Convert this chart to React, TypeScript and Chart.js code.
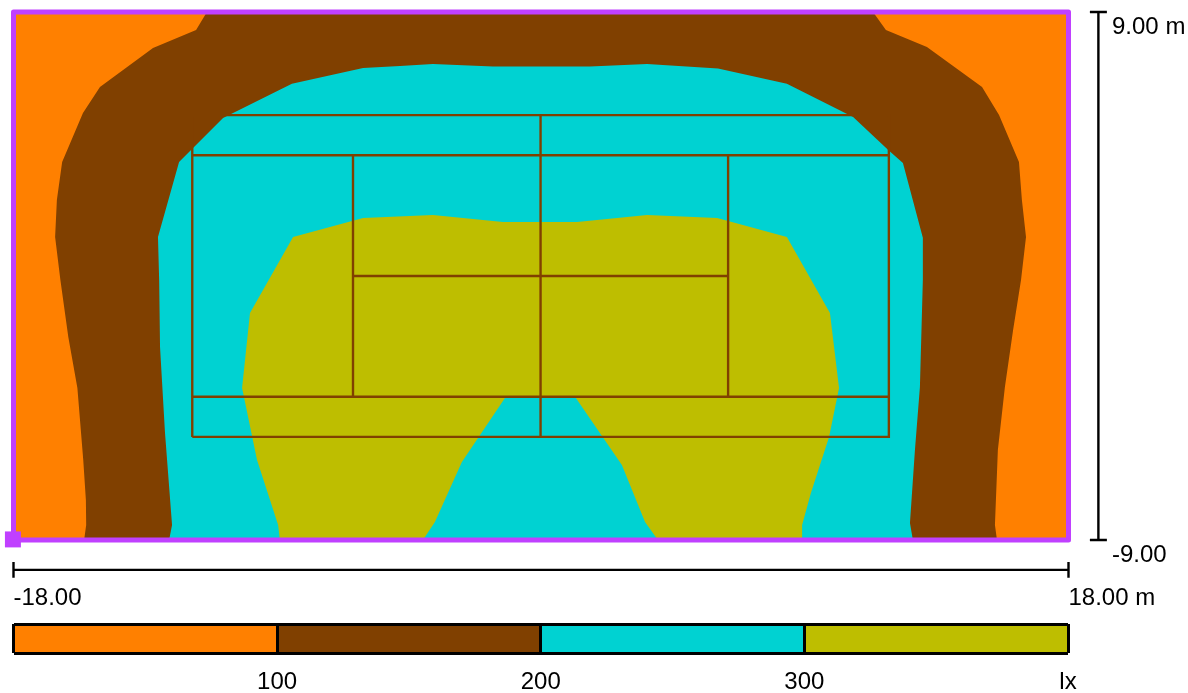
import React, { useEffect, useRef } from "react";
import { Chart, registerables } from "chart.js";

Chart.register(...registerables);

type P = [number, number];

const xRange: P = [-18, 18];
const yRange: P = [-9, 9];
const xTicks = [-18, 18];
const xTickLabels = ["-18.00", "18.00 m"];
const yTicks = [-9, 9];
const yTickLabels = ["-9.00", "9.00 m"];

const band100: P[] = [[-18, -9], [-18, 9], [18, 9], [18, -9], [-18, -9]];

const band200: P[] = [
  [-15.59, -9], [-15.52, -8.49], [-15.53, -7.64], [-15.62, -6.27], [-15.82, -3.82], [-16.13, -2.08],
  [-16.4, -0.14], [-16.58, 1.33], [-16.52, 2.59], [-16.34, 3.89], [-15.63, 5.56], [-15.05, 6.44],
  [-13.24, 7.77], [-11.77, 8.39], [-11.4, 9], [11.33, 9], [11.77, 8.39], [13.17, 7.81], [15.05, 6.44],
  [15.63, 5.49], [16.31, 3.89], [16.41, 2.59], [16.55, 1.33], [16.38, -0.14], [16.11, -1.84],
  [15.83, -3.78], [15.59, -5.93], [15.49, -8.49], [15.56, -9], [-15.59, -9],
];

const band300: P[] = [
  [-12.69, -9], [-12.59, -8.49], [-12.83, -5.35], [-13, -2.42], [-13.03, -0.14], [-13.07, 1.33],
  [-12.35, 3.89], [-10.85, 5.39], [-8.5, 6.55], [-6.07, 7.09], [-4.81, 7.16], [-3.69, 7.23], [-1.64, 7.14],
  [1.67, 7.14], [3.62, 7.23], [6.04, 7.07], [8.39, 6.55], [10.65, 5.42], [11.84, 4.3], [12.35, 3.85],
  [13.03, 1.3], [13.03, -0.14], [12.93, -3.78], [12.76, -5.93], [12.59, -8.42], [12.69, -9], [-12.69, -9],
];

const band400: P[] = [
  [-8.91, -9], [-8.97, -8.49], [-9.69, -6.27], [-10.2, -3.82], [-9.93, -1.26], [-8.46, 1.33], [-6.07, 1.98],
  [-3.69, 2.08], [-1.3, 1.84], [1.23, 1.84], [3.62, 2.08], [6.01, 1.98], [8.39, 1.33], [9.86, -1.26],
  [10.17, -3.82], [9.83, -5.49], [9.21, -7.4], [8.91, -8.49], [8.91, -9], [3.99, -9], [3.55, -8.39],
  [2.76, -6.44], [1.19, -4.16], [-1.23, -4.16], [-2.7, -6.34], [-3.62, -8.39], [-4.03, -9], [-8.91, -9],
];

const courtOutline: P[] = [[-11.9, -5.485], [-11.9, 5.485], [11.87, 5.485], [11.87, -5.485], [-11.9, -5.485]];
const courtSinglesTop: P[] = [[-11.9, 4.115], [11.87, 4.115]];
const courtSinglesBottom: P[] = [[-11.9, -4.115], [11.87, -4.115]];
const courtNet: P[] = [[-0.015, 5.485], [-0.015, -5.485]];
const courtServiceLeft: P[] = [[-6.415, 4.115], [-6.415, -4.115]];
const courtServiceRight: P[] = [[6.385, 4.115], [6.385, -4.115]];
const courtCentreService: P[] = [[-6.415, 0], [6.385, 0]];

const roomOutline: P[] = [[-18, -9], [-18, 9], [18, 9], [18, -9], [-18, -9]];
const roomOrigin: P[] = [[-18.02, -8.98]];
const ruleX: P[] = [[-18, -10.29], [-18, -9.75], [-18, -10.02], [18, -10.02], [18, -9.75], [18, -10.29]];
const ruleY: P[] = [[18.73, 9], [19.31, 9], [19.02, 9], [19.02, -9], [18.73, -9], [19.31, -9]];

const legendSteps = [100, 100, 100, 100];
const legendTicks = [100, 200, 300, 400];
const legendTickLabels = ["100", "200", "300", "lx"];

const ORANGE = "#ff8000";
const BROWN = "#804000";
const CYAN = "#00d2d2";
const OLIVE = "#bebe00";
const PURPLE = "#c040ff";
const legendColors = [ORANGE, BROWN, CYAN, OLIVE];
const FONT = { family: "'Liberation Sans', Arial, sans-serif", size: 24 };

const pts = (a: P[]) => a.map(([x, y]) => ({ x, y }));

export default function App() {
  const mainRef = useRef<HTMLCanvasElement>(null);
  const legendRef = useRef<HTMLCanvasElement>(null);

  useEffect(() => {
    const fills = [band100, band200, band300, band400].map((d, i) => ({
      data: pts(d),
      showLine: true,
      fill: "shape",
      backgroundColor: legendColors[i],
      borderWidth: 0,
      borderColor: legendColors[i],
      pointRadius: 0,
      tension: 0,
      order: 100 - i,
      clip: false,
    }));
    const court = [courtOutline, courtSinglesTop, courtSinglesBottom, courtNet, courtServiceLeft, courtServiceRight, courtCentreService].map((d) => ({
      data: pts(d),
      showLine: true,
      fill: false,
      borderColor: BROWN,
      borderWidth: 2.4,
      pointRadius: 0,
      tension: 0,
      order: 50,
    }));
    const rule = (d: P[]) => ({
      data: pts(d),
      showLine: true,
      fill: false,
      borderColor: "#000",
      borderWidth: 2.4,
      pointRadius: 0,
      tension: 0,
      order: 5,
      clip: false,
    });
    const main = new Chart(mainRef.current!, {
      type: "scatter",
      data: {
        datasets: [
          ...fills,
          ...court,
          {
            data: pts(roomOutline),
            showLine: true,
            fill: false,
            borderColor: PURPLE,
            borderWidth: 5,
            borderJoinStyle: "round",
            pointRadius: 0,
            tension: 0,
            order: 20,
            clip: false,
          },
          {
            data: pts(roomOrigin),
            pointStyle: "rect",
            pointRadius: 11.3,
            backgroundColor: PURPLE,
            borderColor: PURPLE,
            pointBorderWidth: 0,
            order: 10,
            clip: false,
          },
          rule(ruleX),
          rule(ruleY),
        ] as any,
      },
      options: {
        responsive: false,
        animation: false,
        events: [],
        layout: { padding: { left: 13.5, top: 12, right: 0, bottom: 0 } },
        plugins: { legend: { display: false }, tooltip: { enabled: false } },
        scales: {
          x: {
            type: "linear",
            position: "bottom",
            min: xRange[0],
            max: xRange[1],
            grid: { display: false, drawTicks: false },
            border: { display: false },
            afterBuildTicks: (s: any) => {
              s.ticks = xTicks.map((value) => ({ value }));
            },
            afterFit: (s: any) => {
              s.height = 153;
              s.paddingLeft = 0;
              s.paddingRight = 0;
            },
            ticks: {
              align: "start",
              autoSkip: false,
              maxRotation: 0,
              padding: 44,
              color: "#000",
              font: FONT,
              callback: (v: any) => xTickLabels[xTicks.indexOf(v)],
            },
          },
          y: {
            type: "linear",
            position: "right",
            min: yRange[0],
            max: yRange[1],
            grid: { display: false, drawTicks: false },
            border: { display: false },
            afterBuildTicks: (s: any) => {
              s.ticks = yTicks.map((value) => ({ value }));
            },
            afterFit: (s: any) => {
              s.width = 119.5;
              s.paddingTop = 0;
              s.paddingBottom = 0;
            },
            ticks: {
              align: "start",
              autoSkip: false,
              padding: 43.5,
              color: "#000",
              font: { ...FONT, lineHeight: "6px" },
              callback: (v: any) => ["", yTickLabels[yTicks.indexOf(v)]],
            },
          },
        } as any,
      },
    });

    const legend = new Chart(legendRef.current!, {
      type: "bar",
      data: {
        labels: ["lx"],
        datasets: legendSteps.map((v, i) => ({
          data: [v],
          backgroundColor: legendColors[i],
          borderWidth: 0,
          barPercentage: 1,
          categoryPercentage: 1,
        })),
      },
      options: {
        indexAxis: "y",
        responsive: false,
        animation: false,
        events: [],
        layout: { padding: { left: 13.5, top: 24, right: 120, bottom: 0 } },
        plugins: { legend: { display: false }, tooltip: { enabled: false } },
        scales: {
          x: {
            type: "linear",
            stacked: true,
            min: 0,
            max: 400,
            grid: { z: 1, color: "#000", lineWidth: 3, drawTicks: false },
            border: { display: false },
            afterBuildTicks: (s: any) => {
              s.ticks = [0, ...legendTicks].map((value) => ({ value }));
            },
            afterFit: (s: any) => {
              s.height = 40;
              s.paddingLeft = 0;
              s.paddingRight = 0;
            },
            ticks: {
              autoSkip: false,
              maxRotation: 0,
              padding: 15,
              color: "#000",
              font: FONT,
              callback: (v: any) => {
                const i = legendTicks.indexOf(v);
                return i < 0 ? "" : legendTickLabels[i];
              },
            },
          },
          y: {
            stacked: true,
            grid: { z: 1, color: "#000", lineWidth: 3, drawTicks: false },
            border: { display: false },
            ticks: { display: false },
            afterFit: (s: any) => {
              s.width = 0;
            },
          },
        } as any,
      },
    });

    return () => {
      main.destroy();
      legend.destroy();
    };
  }, []);

  return (
    <div style={{ position: "absolute", left: 0, top: 0, width: 1188, height: 693, overflow: "hidden", background: "#fff" }}>
      <canvas ref={mainRef} width={1188} height={693} style={{ position: "absolute", left: 0, top: 0 }} />
      <canvas ref={legendRef} width={1188} height={93} style={{ position: "absolute", left: 0, top: 600 }} />
    </div>
  );
}
